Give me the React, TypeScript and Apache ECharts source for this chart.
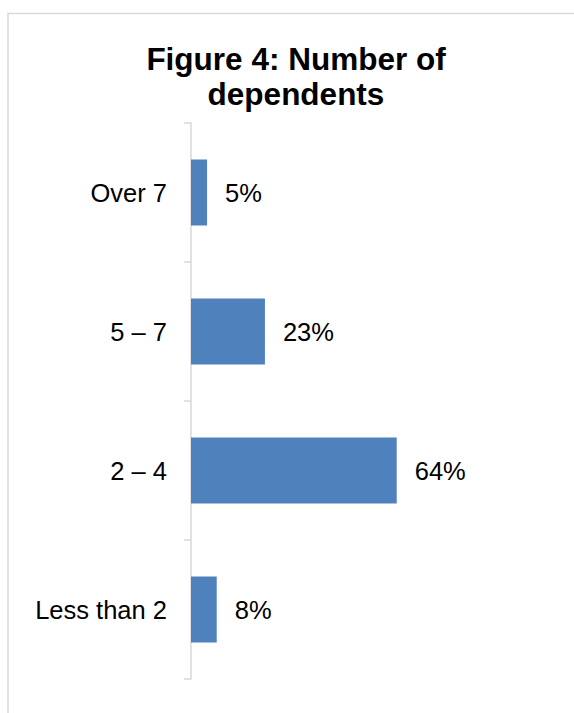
import React, { useEffect, useRef } from "react";
import * as echarts from "echarts";

// Categories listed bottom-to-top (ECharts category y-axis starts at the bottom)
const categories = ["Less than 2", "2 – 4", "5 – 7", "Over 7"];
const shares = [8, 64, 23, 5];
const titleText = "Figure 4: Number of\ndependents";

const FONT = "'Liberation Sans', Arial, Helvetica, sans-serif";
const BAR_COLOR = "#4f81bd";
const RULE_COLOR = "#d9d9d9";

export default function App() {
  const ref = useRef<HTMLDivElement>(null);

  useEffect(() => {
    if (!ref.current) return;
    const chart = echarts.init(ref.current, null, { renderer: "svg" });
    chart.setOption({
      animation: false,
      backgroundColor: "#ffffff",
      title: {
        text: titleText,
        left: 291,
        top: 36,
        textAlign: "center",
        textStyle: {
          fontFamily: FONT,
          fontWeight: "bold",
          fontSize: 31.5,
          lineHeight: 35,
          color: "#000000",
        },
      },
      graphic: [
        {
          type: "rect",
          silent: true,
          shape: { x: 8, y: 13.5, width: 700, height: 800 },
          style: { fill: "none", stroke: RULE_COLOR, lineWidth: 1.5 },
        },
      ],
      grid: { left: 191, top: 123, height: 556, width: 225 },
      xAxis: {
        type: "value",
        min: 0,
        max: 70,
        show: false,
      },
      yAxis: {
        type: "category",
        data: categories,
        axisLine: { show: true, lineStyle: { color: RULE_COLOR, width: 1.5 } },
        axisTick: { show: true, length: 7, lineStyle: { color: RULE_COLOR, width: 1.5 } },
        axisLabel: {
          margin: 24,
          fontFamily: FONT,
          fontSize: 25.5,
          color: "#000000",
        },
        splitLine: { show: false },
      },
      series: [
        {
          type: "bar",
          data: shares,
          barWidth: 66,
          itemStyle: { color: BAR_COLOR },
          label: {
            show: true,
            position: "right",
            distance: 18,
            formatter: "{c}%",
            fontFamily: FONT,
            fontSize: 25.5,
            color: "#000000",
          },
        },
      ],
    });
    return () => chart.dispose();
  }, []);

  return (
    <div
      ref={ref}
      style={{ position: "absolute", left: 0, top: 0, width: 574, height: 713 }}
    />
  );
}
